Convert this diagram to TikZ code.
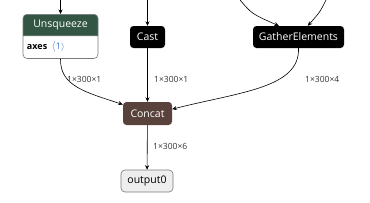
\documentclass[tikz,border=0pt]{standalone}
\usepackage{fontspec}
\setmainfont{Open Sans}
\usetikzlibrary{arrows.meta,positioning,calc,shapes.multipart}
\definecolor{nxTransform}{RGB}{51,85,68}
\definecolor{nxTensor}{RGB}{89,66,59}
\definecolor{nxAttr}{HTML}{3D73C9}
\definecolor{nxGray}{HTML}{7A7A7A}
\definecolor{nxLight}{HTML}{EEEEEE}
\tikzset{
  % operator boxes, dark fill and white text
  nx/op/.style={
    draw=none, fill=black, text=white, rounded corners=3.5pt,
    inner sep=2pt, minimum height=22pt, font=\fontsize{10.5}{12}\selectfont
  },
  % graph input / output
  nx/io/.style={
    draw=nxGray, fill=nxLight, text=black, line width=0.6pt,
    rounded corners=4pt, inner sep=2pt, minimum height=22pt,
    font=\fontsize{10.5}{12}\selectfont
  },
  nx/edge/.style={
    -{Stealth[length=4.5pt,width=4pt]}, draw=black, line width=0.6pt
  },
  nx/dim/.style={
    font=\fontsize{8.5}{10}\selectfont, text=black!80, inner sep=0pt, anchor=west
  },
}

\begin{document}
\begin{tikzpicture}[x=1pt,y=-1pt]
  \useasboundingbox (0,0) rectangle (370,202);
  % operators
  \node[rectangle split, rectangle split parts=2, draw=nxGray, line width=0.6pt,
        rounded corners=4pt, rectangle split part fill={nxTransform,white},
        rectangle split part align={center,left},
        minimum width=75pt, inner xsep=4pt, inner ysep=5.5pt,
        font=\fontsize{10.5}{12}\selectfont, anchor=north] (unsq) at (60.5,14)
       {\textcolor{white}{Unsqueeze}\nodepart{two}{\fontsize{9}{11}\selectfont\bfseries axes}\,
        \textcolor{nxAttr}{$\langle$\fontsize{9}{11}\selectfont1$\rangle$}};
  \node[nx/op, minimum width=35pt] (cast) at (147.5,37) {Cast};
  \node[nx/op, minimum width=91pt] (gather) at (298.5,37) {GatherElements};
  \node[nx/op, fill=nxTensor, minimum width=49pt, minimum height=23pt] (concat) at (147.5,113.5) {Concat};
  \node[nx/io, minimum width=52pt] (out) at (147,181) {output0};
  % incoming edges from above the view
  \coordinate (inU) at (60.5,0);
  \coordinate (inC) at (147.5,0);
  \coordinate (inG1) at (240,0);
  \coordinate (inG2) at (326,0);
  \draw[nx/edge] (inU) -- (unsq.north);
  \draw[nx/edge] (inC) -- (cast.north);
  \draw[nx/edge] (inG1) .. controls (252,14) .. ($(gather.north west)+(26,0)$);
  \draw[nx/edge] (inG2) .. controls (320,12) .. ($(gather.north west)+(55,0)$);
  % into Concat
  \draw[nx/edge] (unsq.south) .. controls (60,86) and (85,92) .. (concat.160);
  \draw[nx/edge] (cast) -- (concat);
  \draw[nx/edge] (gather.south) .. controls (300,88) and (240,92) .. (concat.10);
  \draw[nx/edge] (concat) -- (out);
  % tensor shapes
  \node[nx/dim] (dU) at (67,79) {1×300×1};
  \node[nx/dim] (dC) at (154,79) {1×300×1};
  \node[nx/dim] (dG) at (305,79) {1×300×4};
  \node[nx/dim] (dO) at (153,146) {1×300×6};
\end{tikzpicture}
\end{document}
